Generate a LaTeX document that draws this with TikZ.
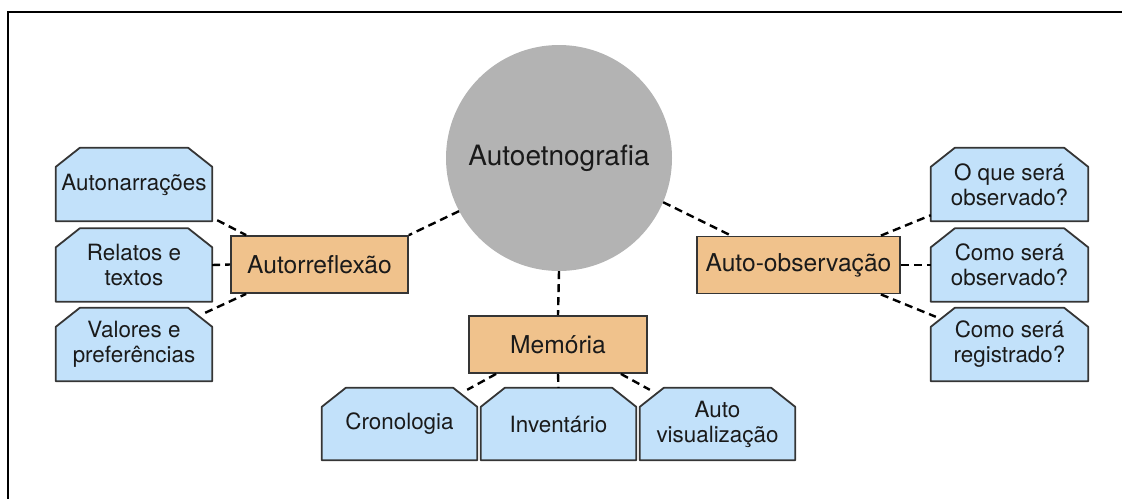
\documentclass[tikz,border=0pt]{standalone}
\usepackage{fontspec}
\setmainfont{TeX Gyre Heros}
\usetikzlibrary{calc,backgrounds}
\definecolor{leafblue}{HTML}{C2E1FA}
\definecolor{hubtan}{HTML}{F0C28C}
\definecolor{coregray}{HTML}{B3B3B3}
\definecolor{edgegray}{HTML}{353535}
\definecolor{ink}{HTML}{1A1A1A}
\tikzset{
  core/.style={circle, fill=coregray, draw=none, minimum size=226pt,
    font=\fontsize{28}{31}\selectfont, text=ink},
  hub/.style={rectangle, fill=hubtan, draw=edgegray, line width=1.8pt,
    minimum height=57pt, inner sep=0pt,
    font=\fontsize{24.6}{28}\selectfont, text=ink},
  leaf/.style={rectangle, draw=none, fill=none,
    minimum width=156pt, minimum height=73pt, inner sep=0pt,
    align=center, font=\fontsize{22.4}{25}\selectfont, text=ink},
  leafline/.style={fill=leafblue, draw=edgegray, line width=1.8pt, line join=round},
  link/.style={draw=black, line width=2.4pt, dash pattern=on 8pt off 5pt},
  frame/.style={draw=black, line width=2pt}
}
% box with its two upper corners cut off, drawn behind the named node
\newcommand\leafoutline[1]{%
  \path[leafline] (#1.south west) -- ($(#1.north west)+(0,19)$)
    -- ($(#1.north west)+(24,0)$) -- ($(#1.north east)+(-24,0)$)
    -- ($(#1.north east)+(0,19)$) -- (#1.south east) -- cycle;}
\begin{document}
\begin{tikzpicture}[x=1pt,y=-1pt]
\useasboundingbox (0,0) rectangle (1122,499);
% outer frame, open to the right and bottom
\coordinate (ftr) at (1122,12);
\coordinate (ftl) at (8,12);
\coordinate (fbl) at (8,499);
\draw[frame] (ftr) -- (ftl) -- (fbl);

% centre
\node[core] (core) at (559,158) {Autoetnografia};

% three hubs
\node[hub, minimum width=177pt] (refl) at (319.5,264.5) {Autorreflexão};
\node[hub, minimum width=203pt] (obs) at (798.5,265) {Auto-observação};
\node[hub, minimum width=178pt] (mem) at (558,344.5) {Memória};

% leaves of Autorreflexão
\node[leaf] (l1) at (134,184.5) {Autonarrações};
\node[leaf] (l2) at (134,265) {Relatos e\\textos};
\node[leaf] (l3) at (134,344.5) {Valores e\\preferências};

% leaves of Auto-observação
\node[leaf, minimum width=157pt] (r1) at (1009.5,184.5) {O que será\\observado?};
\node[leaf, minimum width=157pt] (r2) at (1009.5,265) {Como será\\observado?};
\node[leaf, minimum width=157pt] (r3) at (1009.5,344.5) {Como será\\registrado?};

% leaves of Memória
\node[leaf, minimum width=155pt, minimum height=72pt] (b1) at (399.5,424) {Cronologia};
\node[leaf, minimum width=155pt, minimum height=72pt] (b2) at (558.5,424) {Inventário};
\node[leaf, minimum width=155pt, minimum height=72pt] (b3) at (717.5,424) {Auto\\visualização};

\begin{scope}[on background layer]
  \foreach \n in {l1,l2,l3,r1,r2,r3,b1,b2,b3} {\leafoutline{\n}}
\end{scope}

% connectors
\draw[link] (core.208) -- (refl.north east);
\draw[link] (core.337) -- ($(obs.north west)+(35,0)$);
\draw[link] (core.south) -- (mem.north);

\draw[link] ($(l1.south east)+(5,-1)$) -- ($(refl.north west)+(16,0)$);
\draw[link] (l2.east) -- (refl.west);
\draw[link] ($(l3.north east)+(-7,5)$) -- ($(refl.south west)+(16,0)$);

\draw[link] ($(obs.north east)+(-20,0)$) -- ($(r1.south west)+(0,-6)$);
\draw[link] (obs.east) -- (r2.west);
\draw[link] ($(obs.south east)+(-20,0)$) -- ($(r3.north west)+(5,9)$);

\draw[link] ($(mem.south west)+(28,0)$) -- ($(b1.north east)+(-10,2)$);
\draw[link] (mem.south) -- (b2.north);
\draw[link] ($(mem.south east)+(-27,0)$) -- ($(b3.north west)+(10,2)$);
\end{tikzpicture}
\end{document}
